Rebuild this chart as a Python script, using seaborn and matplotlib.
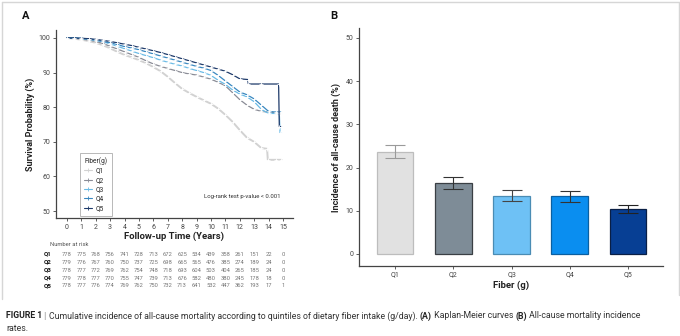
import numpy as np
import pandas as pd
import matplotlib
matplotlib.use("Agg")
import matplotlib.pyplot as plt
import seaborn as sns
from matplotlib.lines import Line2D
from matplotlib.transforms import blended_transform_factory

# ---------------- data ----------------
groups = ["Q1", "Q2", "Q3", "Q4", "Q5"]

t_q1 = [0, 0.5, 1, 1.5, 2, 2.5, 3, 3.5, 4, 4.5, 5, 5.5, 6, 6.5, 7, 7.5, 8, 8.5, 9, 9.5, 10, 10.5, 11, 11.5, 12, 12.5, 13, 13.5, 13.9, 13.95, 14.5, 14.9]
s_q1 = [100, 99.8, 99.5, 99.1, 98.6, 97.9, 97.0, 96.0, 95.1, 94.4, 93.6, 92.7, 91.6, 90.4, 88.8, 87.0, 85.3, 84.1, 83.0, 82.0, 81.0, 79.6, 77.8, 75.8, 73.4, 71.2, 70.0, 68.2, 68.0, 64.8, 64.8, 64.8]

t_q2 = [0, 0.5, 1, 1.5, 2, 2.5, 3, 3.5, 4, 4.5, 5, 5.5, 6, 6.5, 7, 7.5, 8, 8.5, 9, 9.5, 10, 10.5, 11, 11.5, 12, 12.5, 13, 13.5, 14, 14.5, 14.9]
s_q2 = [100, 99.9, 99.7, 99.4, 99.0, 98.4, 97.6, 96.8, 96.0, 95.2, 94.4, 93.4, 92.5, 91.8, 91.2, 90.6, 90.0, 89.6, 89.3, 88.7, 88.1, 87.2, 86.2, 84.2, 82.2, 80.6, 79.4, 78.8, 78.6, 78.3, 78.0]

t_q3 = [0, 0.5, 1, 1.5, 2, 2.5, 3, 3.5, 4, 4.5, 5, 5.5, 6, 6.5, 7, 7.5, 8, 8.5, 9, 9.5, 10, 10.5, 11, 11.5, 12, 12.5, 13, 13.5, 14, 14.5, 14.75, 14.8, 14.9]
s_q3 = [100, 100, 99.8, 99.6, 99.3, 98.9, 98.3, 97.6, 96.9, 96.2, 95.5, 94.9, 94.3, 93.6, 93.0, 92.4, 91.9, 91.2, 90.6, 90.0, 89.2, 87.8, 86.6, 85.0, 83.8, 83.0, 81.6, 79.4, 78.2, 78.2, 78.2, 72.6, 72.6]

t_q4 = [0, 0.5, 1, 1.5, 2, 2.5, 3, 3.5, 4, 4.5, 5, 5.5, 6, 6.5, 7, 7.5, 8, 8.5, 9, 9.5, 10, 10.5, 11, 11.5, 12, 12.5, 13, 13.5, 14, 14.5, 14.9]
s_q4 = [100, 100, 99.9, 99.7, 99.4, 99.0, 98.6, 98.1, 97.5, 97.1, 96.6, 96.0, 95.4, 94.8, 94.2, 93.6, 93.0, 92.4, 91.8, 91.3, 90.6, 89.2, 87.6, 86.0, 84.4, 83.6, 82.4, 80.6, 78.8, 78.6, 78.6]

t_q5 = [0, 0.5, 1, 1.5, 2, 2.5, 3, 3.5, 4, 4.5, 5, 5.5, 6, 6.5, 7, 7.5, 8, 8.5, 9, 9.5, 10, 10.5, 11, 11.5, 12, 12.55, 12.6, 13.5, 14.7, 14.75, 14.9]
s_q5 = [100, 100, 99.9, 99.8, 99.6, 99.3, 99.0, 98.6, 98.2, 97.8, 97.3, 96.8, 96.3, 95.8, 95.2, 94.6, 94.0, 93.4, 92.8, 92.2, 91.6, 91.0, 90.4, 89.4, 88.2, 88.0, 86.7, 86.7, 86.7, 74.4, 74.4]

risk_years = list(range(16))
risk_q1 = [778, 775, 768, 756, 741, 728, 713, 672, 625, 534, 439, 358, 261, 151, 22, 0]
risk_q2 = [779, 776, 767, 760, 750, 737, 725, 698, 665, 565, 476, 385, 274, 189, 24, 0]
risk_q3 = [778, 777, 772, 769, 762, 754, 748, 718, 693, 604, 503, 404, 265, 185, 24, 0]
risk_q4 = [779, 778, 777, 770, 755, 747, 739, 713, 676, 582, 480, 380, 245, 178, 18, 0]
risk_q5 = [778, 777, 776, 774, 769, 762, 750, 732, 713, 641, 532, 447, 362, 193, 17, 1]

inc_values = [23.7, 16.3, 13.4, 13.3, 10.4]
inc_low = [22.2, 15.0, 12.3, 12.1, 9.4]
inc_high = [25.3, 17.8, 14.8, 14.6, 11.4]

# ---------------- style ----------------
sns.set_style("ticks")
plt.rcParams["font.family"] = ["Roboto", "DejaVu Sans"]

km_colors = ["#d2d2d2", "#8a8c96", "#6bbbe6", "#3a88c0", "#1e3a6a"]
bar_colors = ["#e1e1e1", "#7e8c97", "#6ec1f5", "#0a8ef0", "#073f94"]
bar_edges = ["#bdbdbd", "#3a3f44", "#4a8cb4", "#0b5fa0", "#0a1f45"]
err_colors = ["#9a9a9a", "#333333", "#444444", "#333333", "#222222"]

W, H = 680, 336
fig = plt.figure(figsize=(W / 100, H / 100), dpi=100)
fig.patch.set_facecolor("white")

def fx(px):
    return px / W

def fy(py):
    return 1 - py / H

# ---------------- panel A ----------------
axA = fig.add_axes([fx(56), fy(218), fx(293) - fx(56), fy(30) - fy(218)])
km_t = [t_q1, t_q2, t_q3, t_q4, t_q5]
km_s = [s_q1, s_q2, s_q3, s_q4, s_q5]
frames = []
for g, tt, ss in zip(groups, km_t, km_s):
    frames.append(pd.DataFrame({"t": tt, "s": ss, "g": g}))
km_df = pd.concat(frames, ignore_index=True)
for i, g in enumerate(groups):
    sub = km_df[km_df["g"] == g]
    sns.lineplot(data=sub, x="t", y="s", color=km_colors[i], estimator=None, sort=False,
                 lw=1.4 if i == 0 else 0.9, marker="+", markersize=3, markeredgewidth=0.6,
                 ax=axA, legend=False)

axA.set_xlim(-0.76, 15.7)
axA.set_ylim(48.0, 102.3)
axA.set_xticks(range(16))
axA.set_yticks(range(50, 101, 10))
axA.set_xlabel("Follow-up Time (Years)", fontsize=6.8, fontweight="bold", color="#222", labelpad=0.5)
axA.set_ylabel("Survival Probability (%)", fontsize=6.5, fontweight="bold", color="#222", labelpad=2.5)
sns.despine(ax=axA)

handles = [Line2D([], [], color=c, marker="+", lw=0.8, ms=3, mew=0.6) for c in km_colors]
leg = axA.legend(handles, groups, title="Fiber(g)", loc="upper left", bbox_to_anchor=(0.089, 0.362),
                 fontsize=4.8, title_fontsize=4.8, frameon=True, fancybox=False, handlelength=1.2,
                 handletextpad=0.5, labelspacing=0.35, borderpad=0.6)
leg.get_frame().set_edgecolor("#999999")
leg.get_frame().set_linewidth(0.6)
leg._legend_box.align = "left"
axA.text(0.785, 0.112, "Log-rank test p-value < 0.001", transform=axA.transAxes, fontsize=4.3,
         ha="center", va="center", color="#333")

# number at risk table
trans = blended_transform_factory(axA.transData, fig.transFigure)
fig.text(fx(50), fy(245), "Number at risk", fontsize=4.2, color="#555", va="center", ha="left")
risk_rows = [risk_q1, risk_q2, risk_q3, risk_q4, risk_q5]
row_y = [254, 262, 270, 278, 285.5]
for g, row, yy in zip(groups, risk_rows, row_y):
    fig.text(fx(44), fy(yy), g, fontsize=4.5, fontweight="bold", color="#111", va="center", ha="left")
    for yr, n in zip(risk_years, row):
        axA.text(yr, fy(yy), str(n), transform=trans, fontsize=4.2, color="#777",
                 ha="center", va="center")

# ---------------- panel B ----------------
axB = fig.add_axes([fx(359), fy(266), fx(663) - fx(359), fy(28) - fy(266)])
bar_df = pd.DataFrame({"q": groups, "v": inc_values})
sns.barplot(data=bar_df, x="q", y="v", hue="q", palette=bar_colors, width=0.63, saturation=1,
            errorbar=None, legend=False, ax=axB)
for p, ec in zip(axB.patches, bar_edges):
    p.set_edgecolor(ec)
    p.set_linewidth(0.9)
for i in range(len(groups)):
    v = inc_values[i]
    axB.errorbar([i], [v], yerr=[[v - inc_low[i]], [inc_high[i] - v]], fmt="none",
                 ecolor=err_colors[i], elinewidth=0.8, capsize=7, capthick=0.8)
axB.set_xlim(-0.62, 4.6)
axB.set_ylim(-2.8, 52.3)
axB.set_yticks(range(0, 51, 10))
axB.set_xlabel("Fiber (g)", fontsize=6.8, fontweight="bold", color="#222", labelpad=1.5)
axB.set_ylabel("Incidence of all-cause death (%)", fontsize=6.5, fontweight="bold", color="#222", labelpad=3)
sns.despine(ax=axB)

for ax in (axA, axB):
    for sp in ("left", "bottom"):
        ax.spines[sp].set_color("#444")
        ax.spines[sp].set_linewidth(0.9)
    ax.tick_params(axis="both", labelsize=5, colors="#444", length=2, width=0.6, pad=2)

fig.text(fx(22), fy(16), "A", fontsize=8, fontweight="bold", color="#111", va="center")
fig.text(fx(330), fy(16), "B", fontsize=8, fontweight="bold", color="#111", va="center")

# frame
frame_kw = dict(color="#d6d6d6", lw=1.0, transform=fig.transFigure)
fig.add_artist(Line2D([fx(1.5), fx(1.5)], [fy(2), fy(299)], **frame_kw))
fig.add_artist(Line2D([fx(1.5), fx(678.5)], [fy(2), fy(2)], **frame_kw))
fig.add_artist(Line2D([fx(678.5), fx(678.5)], [fy(2), fy(295)], **frame_kw))

# ---------------- caption ----------------
pieces = [("FIGURE 1", "bold", "#222"),
          (" | ", "normal", "#888"),
          ("Cumulative incidence of all-cause mortality according to quintiles of dietary fiber intake (g/day). ", "normal", "#333"),
          ("(A)", "bold", "#222"),
          (" Kaplan-Meier curves ", "normal", "#333"),
          ("(B)", "bold", "#222"),
          (" All-cause mortality incidence", "normal", "#333")]
cap_font = ["Roboto", "DejaVu Sans"]
renderer = fig.canvas.get_renderer()

def width_px(s, weight, size):
    t = fig.text(0, 0, s.replace(" ", "\u00a0"), fontsize=size, fontweight=weight, family=cap_font)
    w = t.get_window_extent(renderer).width
    t.remove()
    return w

target = 642.0
size = 7.0
total = sum(width_px(s, w, size) for s, w, c in pieces)
size = size * target / total
x = 6.0
for s, w, c in pieces:
    fig.text(fx(x), fy(316), s.replace(" ", "\u00a0"), fontsize=size, fontweight=w, color=c,
             family=cap_font, va="center", ha="left")
    x += width_px(s, w, size)
fig.text(fx(6), fy(328.5), "rates.", fontsize=size, color="#333", family=cap_font, va="center", ha="left")

fig.savefig("out.png", dpi=100)
